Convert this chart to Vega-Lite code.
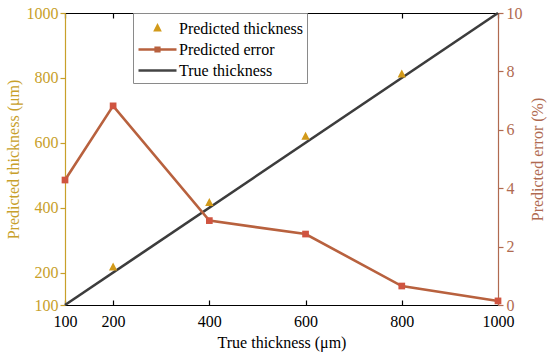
{
  "$schema": "https://vega.github.io/schema/vega-lite/v6.json",
  "width": 433,
  "height": 292,
  "autosize": "none",
  "padding": {"left": 65, "top": 13, "right": 52, "bottom": 54},
  "background": "white",
  "config": {
    "view": {"stroke": null},
    "font": "Liberation Serif",
    "style": {"guide-label": {"font": "Liberation Serif"}, "guide-title": {"font": "Liberation Serif"}},
    "axis": {
      "labelFont": "Liberation Serif",
      "titleFont": "Liberation Serif",
      "labelFontSize": 16,
      "titleFontSize": 16,
      "titleFontWeight": "normal",
      "grid": false,
      "labelFlush": false,
      "labelOverlap": false,
      "domainWidth": 1.2,
      "tickWidth": 1.2
    },
    "legend": {
      "labelFont": "Liberation Serif",
      "labelFontSize": 16,
      "labelColor": "black"
    }
  },
  "datasets": {
    "truth": [
      {"t": 100, "v": 100}, {"t": 1000, "v": 1000}
    ],
    "pred": [
      {"t": 200, "p": 215, "series": "Predicted thickness"},
      {"t": 400, "p": 414, "series": "Predicted thickness"},
      {"t": 600, "p": 618, "series": "Predicted thickness"},
      {"t": 800, "p": 810, "series": "Predicted thickness"}
    ],
    "err": [
      {"t": 100, "e": 4.28},
      {"t": 200, "e": 6.82},
      {"t": 400, "e": 2.89},
      {"t": 600, "e": 2.43},
      {"t": 800, "e": 0.65},
      {"t": 1000, "e": 0.14}
    ]
  },
  "layer": [
    {
      "layer": [
        {
          "data": {"name": "truth"},
          "mark": {"type": "line", "color": "#3c3c3c", "strokeWidth": 2.6},
          "encoding": {
            "x": {
              "field": "t", "type": "quantitative",
              "scale": {"domain": [100, 1000], "nice": false, "zero": false},
              "axis": {
                "title": "True thickness (μm)",
                "values": [100, 200, 400, 600, 800, 1000],
                "format": "d",
                "labelFont": "Liberation Serif",
                "orient": "bottom",
                "domainColor": "black", "tickColor": "black",
                "labelColor": "black", "titleColor": "black",
                "tickSize": -5, "labelPadding": 13, "titlePadding": 5
              }
            },
            "y": {
              "field": "v", "type": "quantitative",
              "scale": {"domain": [100, 1000], "nice": false, "zero": false},
              "axis": {
                "title": "Predicted thickness (μm)",
                "values": [100, 200, 400, 600, 800, 1000],
                "format": "d",
                "labelFont": "Liberation Serif",
                "domainColor": "#C8A02A", "tickColor": "#C8A02A",
                "labelColor": "#C8A02A", "titleColor": "#C8A02A",
                "tickSize": 5, "labelPadding": 2, "titlePadding": 5
              }
            }
          }
        },
        {
          "data": {"name": "pred"},
          "mark": {"type": "point", "filled": false, "fill": "#D29A1A", "strokeWidth": 2.4, "strokeJoin": "miter", "size": 400, "opacity": 1},
          "encoding": {
            "x": {"field": "t", "type": "quantitative"},
            "y": {"field": "p", "type": "quantitative"},
            "color": {
              "field": "series", "type": "nominal",
              "scale": {
                "domain": ["Predicted thickness", "Predicted error", "True thickness"],
                "range": ["#D29A1A", "#B8613E", "#444444"]
              },
              "legend": {
                "title": null,
                "orient": "none",
                "legendX": 68,
                "legendY": 0,
                "strokeColor": "#8a8a8a",
                "fillColor": "white",
                "padding": 4,
                "rowPadding": 1,
                "symbolSize": 400,
                "symbolOffset": 9,
                "labelOffset": 10,
                "symbolStrokeWidth": 2.6,
                "symbolOpacity": 1
              }
            },
            "shape": {
              "field": "series", "type": "nominal",
              "scale": {
                "domain": ["Predicted thickness", "Predicted error", "True thickness"],
                "range": [
                  "M0,-0.26L0.22,0.17L-0.22,0.17Z",
                  "M-1.9,0H1.9M-0.18,-0.18H0.18V0.18H-0.18Z",
                  "M-1.9,0H1.9"
                ]
              },
              "legend": null
            }
          }
        }
      ]
    },
    {
      "data": {"name": "err"},
      "mark": {
        "type": "line", "color": "#B8613E", "strokeWidth": 2.6,
        "point": {"shape": "square", "filled": true, "size": 45, "color": "#CF5440", "opacity": 1}
      },
      "encoding": {
        "x": {
          "field": "t", "type": "quantitative",
          "axis": {
            "orient": "top", "title": null, "labels": false,
            "values": [100, 200, 400, 600, 800, 1000],
            "domainColor": "black", "tickColor": "black", "tickSize": -5
          }
        },
        "y": {
          "field": "e", "type": "quantitative",
          "scale": {"domain": [0, 10], "nice": false},
          "axis": {
            "orient": "right",
            "title": "Predicted error (%)",
            "titleAngle": 270,
            "values": [0, 2, 4, 6, 8, 10],
            "labelFont": "Liberation Serif",
            "domainColor": "#B06A50", "tickColor": "#B06A50",
            "labelColor": "#B06A50", "titleColor": "#B06A50",
            "tickSize": 5, "labelPadding": 3, "titlePadding": 23
          }
        }
      }
    }
  ],
  "resolve": {
    "scale": {"y": "independent"},
    "axis": {"y": "independent", "x": "independent"}
  }
}
